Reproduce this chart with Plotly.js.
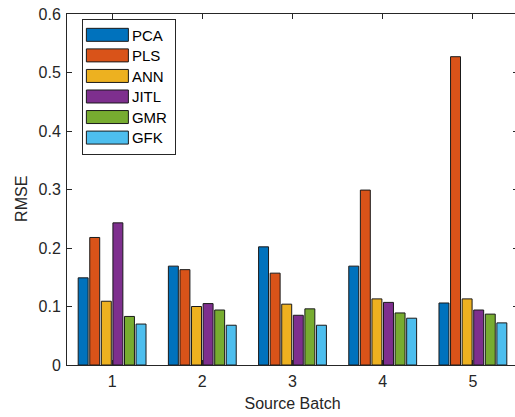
<!DOCTYPE html>
<html>
<head>
<meta charset="utf-8">
<script src="https://cdn.plot.ly/plotly-3.0.1.min.js"></script>
<style>
html,body{margin:0;padding:0;overflow:hidden;background:#fff;}
#chart{width:520px;height:417px;}
</style>
</head>
<body>
<div id="chart"></div>
<script>
const batches = [1, 2, 3, 4, 5];
const methods = ["PCA", "PLS", "ANN", "JITL", "GMR", "GFK"];
const PCA  = [0.149, 0.169, 0.202, 0.169, 0.106];
const PLS  = [0.218, 0.163, 0.157, 0.299, 0.527];
const ANN  = [0.109, 0.100, 0.104, 0.113, 0.113];
const JITL = [0.243, 0.105, 0.085, 0.107, 0.094];
const GMR  = [0.083, 0.094, 0.096, 0.089, 0.087];
const GFK  = [0.070, 0.068, 0.068, 0.080, 0.072];
const seriesValues = [PCA, PLS, ANN, JITL, GMR, GFK];
const colors = ["#0072BD", "#D95319", "#EDB120", "#7E2F8E", "#77AC30", "#4DBEEE"];

const traces = methods.map((m, i) => ({
  type: "bar",
  name: m,
  x: batches,
  y: seriesValues[i],
  marker: {color: colors[i], line: {color: "#1a1a1a", width: 1}}
}));

const axisColor = "#262626";
const layout = {
  width: 520, height: 417,
  margin: {l: 67, r: 2, t: 14, b: 52},
  paper_bgcolor: "#ffffff",
  plot_bgcolor: "#ffffff",
  font: {family: "Liberation Sans, Arial, sans-serif", size: 16, color: axisColor},
  barmode: "group",
  bargap: 0.23,
  bargroupgap: 0.14,
  showlegend: true,
  legend: {
    x: 0.033, y: 0.987, xanchor: "left", yanchor: "top",
    bgcolor: "#ffffff", bordercolor: "#262626", borderwidth: 1,
    font: {size: 13.5, color: "#000000"},
    itemwidth: 39, tracegroupgap: 0,
    traceorder: "normal"
  },
  xaxis: {
    range: [0.5, 5.5],
    tickvals: batches,
    ticktext: batches.map(String),
    ticks: "inside", ticklen: 5, tickcolor: axisColor,
    showline: true, linecolor: axisColor, linewidth: 1, mirror: "ticks",
    showgrid: false, zeroline: false,
    ticklabelstandoff: 2,
    tickfont: {size: 16, color: axisColor},
    title: {text: "Source Batch", font: {size: 16, color: axisColor}, standoff: 8}
  },
  yaxis: {
    range: [0, 0.6],
    tickvals: [0, 0.1, 0.2, 0.3, 0.4, 0.5, 0.6],
    ticks: "inside", ticklen: 5, tickcolor: axisColor,
    showline: true, linecolor: axisColor, linewidth: 1, mirror: "ticks",
    showgrid: false, zeroline: false,
    ticklabelstandoff: 2,
    tickfont: {size: 16, color: axisColor}
  },
  annotations: [{
    text: "RMSE", textangle: -90, showarrow: false,
    xref: "paper", yref: "paper", x: -0.1, y: 0.473,
    xanchor: "center", yanchor: "middle",
    font: {size: 16, color: axisColor}
  }]
};

Plotly.newPlot("chart", traces, layout, {displayModeBar: false, staticPlot: true}).then(() => {
  document.querySelectorAll(".legend .legendpoints path").forEach(p => {
    p.setAttribute("d", "M21,6.5H-21V-6.5H21Z");
  });
  document.querySelectorAll(".legend .legendtext").forEach(t => {
    t.style.fontSize = "15px";
    const y = parseFloat(t.getAttribute("y") || "0");
    t.setAttribute("y", String(y + 0.5));
  });
  const bg = document.querySelector(".legend rect.bg");
  if (bg) {
    const w = parseFloat(bg.getAttribute("width"));
    bg.setAttribute("width", String(w + 6));
  }
});
</script>
</body>
</html>
